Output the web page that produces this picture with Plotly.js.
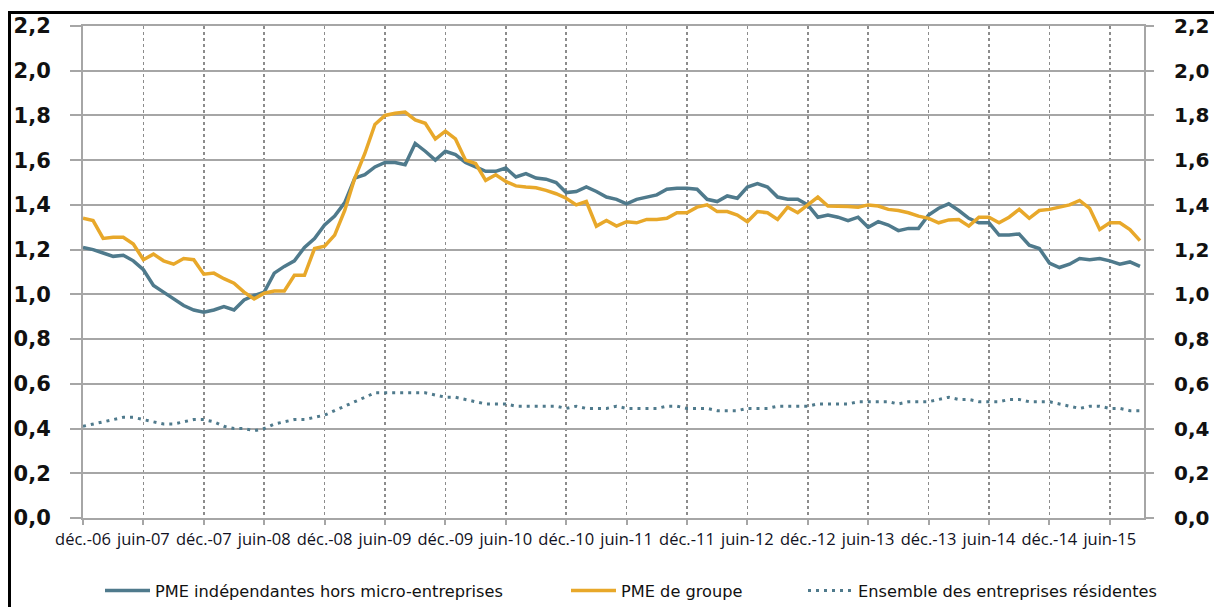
<!DOCTYPE html>
<html>
<head>
<meta charset="utf-8">
<script src="https://cdn.plot.ly/plotly-3.0.1.min.js"></script>
<style>
  html, body { margin: 0; padding: 0; background: #ffffff; }
  #wrap { position: relative; width: 1214px; height: 607px; overflow: hidden; }
  #chart { position: absolute; left: 0; top: 0; width: 1214px; height: 607px; }
  #frame { position: absolute; left: 8px; top: 11px; width: 1400px; height: 800px;
           border-top: 3px solid #000; border-left: 3px solid #000; pointer-events: none; }
</style>
</head>
<body>
<div id="wrap">
  <div id="chart"></div>
  <div id="frame"></div>
</div>
<script>
// Monthly observations, Dec 2006 .. Sep 2015
const startYear = 2006, startMonth = 12, nMonths = 106;
const monthNames = ['janv.','févr.','mars','avr.','mai','juin','juil.','août','sept.','oct.','nov.','déc.'];
const months = [];
const monthIndex = [];
for (let i = 0; i < nMonths; i++) {
  const m0 = (startMonth - 1 + i);
  const y = startYear + Math.floor(m0 / 12);
  months.push(monthNames[m0 % 12] + '-' + String(y).slice(2));
  monthIndex.push(i);
}

const tickLabels = ['déc.-06','juin-07','déc.-07','juin-08','déc.-08','juin-09','déc.-09','juin-10',
  'déc.-10','juin-11','déc.-11','juin-12','déc.-12','juin-13','déc.-13','juin-14','déc.-14','juin-15'];
const tickIndex = [0,6,12,18,24,30,36,42,48,54,60,66,72,78,84,90,96,102];

const pmeIndependantes = [
  1.21,1.20,1.185,1.17,1.175,1.15,1.11,1.04,1.01,0.98,0.95,0.93,
  0.92,0.93,0.945,0.93,0.975,0.995,1.01,1.095,1.125,1.15,1.21,1.25,
  1.31,1.35,1.41,1.52,1.535,1.57,1.59,1.59,1.58,1.675,1.64,1.60,
  1.64,1.625,1.59,1.57,1.55,1.55,1.565,1.525,1.54,1.52,1.515,1.50,
  1.455,1.46,1.48,1.46,1.435,1.425,1.405,1.425,1.435,1.445,1.47,1.475,
  1.475,1.47,1.425,1.415,1.44,1.43,1.48,1.495,1.48,1.435,1.425,1.425,
  1.40,1.345,1.355,1.345,1.33,1.345,1.30,1.325,1.31,1.285,1.295,1.295,
  1.355,1.385,1.405,1.375,1.34,1.32,1.32,1.265,1.265,1.27,1.22,1.205,
  1.14,1.12,1.135,1.16,1.155,1.16,1.15,1.135,1.145,1.125
];

const pmeGroupe = [
  1.34,1.33,1.25,1.255,1.255,1.225,1.155,1.18,1.15,1.135,1.16,1.155,
  1.09,1.095,1.07,1.05,1.01,0.98,1.005,1.015,1.015,1.085,1.085,1.205,
  1.215,1.265,1.375,1.52,1.63,1.76,1.80,1.81,1.815,1.78,1.765,1.695,
  1.73,1.695,1.60,1.585,1.51,1.535,1.505,1.485,1.48,1.477,1.465,1.45,
  1.43,1.40,1.415,1.305,1.33,1.305,1.325,1.32,1.335,1.335,1.34,1.365,
  1.365,1.39,1.40,1.37,1.37,1.355,1.325,1.37,1.365,1.335,1.39,1.365,
  1.40,1.435,1.395,1.395,1.393,1.39,1.40,1.395,1.38,1.375,1.365,1.35,
  1.34,1.32,1.333,1.335,1.305,1.345,1.345,1.32,1.345,1.38,1.34,1.375,
  1.38,1.39,1.40,1.42,1.385,1.29,1.32,1.32,1.29,1.24
];

const ensembleEntreprises = [
  0.41,0.42,0.43,0.44,0.45,0.45,0.44,0.43,0.42,0.42,0.43,0.44,
  0.44,0.43,0.41,0.40,0.40,0.39,0.40,0.42,0.43,0.44,0.44,0.45,
  0.46,0.48,0.50,0.52,0.54,0.56,0.56,0.56,0.56,0.56,0.56,0.55,
  0.54,0.54,0.53,0.52,0.51,0.51,0.51,0.50,0.50,0.50,0.50,0.50,
  0.49,0.50,0.49,0.49,0.49,0.50,0.49,0.49,0.49,0.49,0.50,0.50,
  0.49,0.49,0.49,0.48,0.48,0.48,0.49,0.49,0.49,0.50,0.50,0.50,
  0.50,0.51,0.51,0.51,0.51,0.52,0.52,0.52,0.52,0.51,0.52,0.52,
  0.52,0.53,0.54,0.53,0.53,0.52,0.52,0.52,0.53,0.53,0.52,0.52,
  0.52,0.51,0.50,0.49,0.50,0.50,0.49,0.49,0.48,0.48
];

const seriesNames = ['PME indépendantes hors micro-entreprises','PME de groupe','Ensemble des entreprises résidentes'];
const yTickVals = [0,0.2,0.4,0.6,0.8,1.0,1.2,1.4,1.6,1.8,2.0,2.2];

const BLUE = '#4f7a8c', ORANGE = '#e8a82a';

const traces = [
  { x: monthIndex, y: pmeIndependantes, text: months, name: seriesNames[0], type: 'scatter', mode: 'lines',
    line: { color: BLUE, width: 3.5 }, legend: 'legend', hovertemplate: '%{text}: %{y}<extra></extra>' },
  { x: monthIndex, y: pmeGroupe, text: months, name: seriesNames[1], type: 'scatter', mode: 'lines',
    line: { color: ORANGE, width: 3.5 }, legend: 'legend2', hovertemplate: '%{text}: %{y}<extra></extra>' },
  { x: monthIndex, y: ensembleEntreprises, text: months, name: seriesNames[2], type: 'scatter', mode: 'lines',
    yaxis: 'y2',
    line: { color: BLUE, width: 3, dash: '3px,5px' }, legend: 'legend3', hovertemplate: '%{text}: %{y}<extra></extra>' }
];

const GRID = '#a6a6a6';
const tickFont = { family: 'DejaVu Sans', size: 21, color: '#111111', weight: 'bold' };
const tickFontR = { family: 'DejaVu Sans', size: 20, color: '#111111', weight: 'bold' };
const legFont = { family: 'DejaVu Sans', size: 16.2, color: '#111111' };
const legY = 1 - 591 / 607;

const layout = {
  width: 1214, height: 607,
  margin: { l: 83, r: 70, t: 26, b: 89 },
  paper_bgcolor: '#ffffff', plot_bgcolor: '#ffffff',
  separators: ', ',
  showlegend: true,
  xaxis: {
    range: [0, 105.4], tickmode: 'array', tickvals: tickIndex, ticktext: tickLabels,
    showgrid: true, gridcolor: '#8c8c8c', griddash: 'dot', gridwidth: 1.5,
    showline: true, linecolor: GRID, linewidth: 2, mirror: true,
    ticks: 'outside', ticklen: 5, tickcolor: GRID, tickwidth: 2,
    ticklabelstandoff: 0, automargin: false,
    tickangle: 0, zeroline: false,
    tickfont: { family: 'Open Sans', size: 16.5, color: '#111122' }
  },
  yaxis: {
    range: [0, 2.2], tickmode: 'array', tickvals: yTickVals, tickformat: '.1f',
    showgrid: true, gridcolor: GRID, gridwidth: 2,
    showline: true, linecolor: GRID, linewidth: 2, mirror: true,
    ticks: 'outside', ticklen: 11, tickcolor: GRID, tickwidth: 2, automargin: false,
    ticklabelstandoff: 15, zeroline: false, tickfont: tickFont
  },
  yaxis2: {
    range: [0, 2.2], overlaying: 'y', side: 'right', tickmode: 'array', tickvals: yTickVals, tickformat: '.1f',
    showgrid: false, showline: false, zeroline: false, automargin: false,
    ticks: 'outside', ticklen: 9, tickcolor: GRID, tickwidth: 2,
    ticklabelstandoff: 16, tickfont: tickFontR
  },
  legend:  { xref: 'container', yref: 'container', x: 100 / 1214, y: legY, xanchor: 'left', yanchor: 'middle', orientation: 'h', font: legFont, bgcolor: 'rgba(0,0,0,0)', itemwidth: 45 },
  legend2: { xref: 'container', yref: 'container', x: 566 / 1214, y: legY, xanchor: 'left', yanchor: 'middle', orientation: 'h', font: legFont, bgcolor: 'rgba(0,0,0,0)', itemwidth: 45 },
  legend3: { xref: 'container', yref: 'container', x: 803 / 1214, y: legY, xanchor: 'left', yanchor: 'middle', orientation: 'h', font: legFont, bgcolor: 'rgba(0,0,0,0)', itemwidth: 45 }
};

Plotly.newPlot('chart', traces, layout, { displayModeBar: false, staticPlot: true });
</script>
</body>
</html>
